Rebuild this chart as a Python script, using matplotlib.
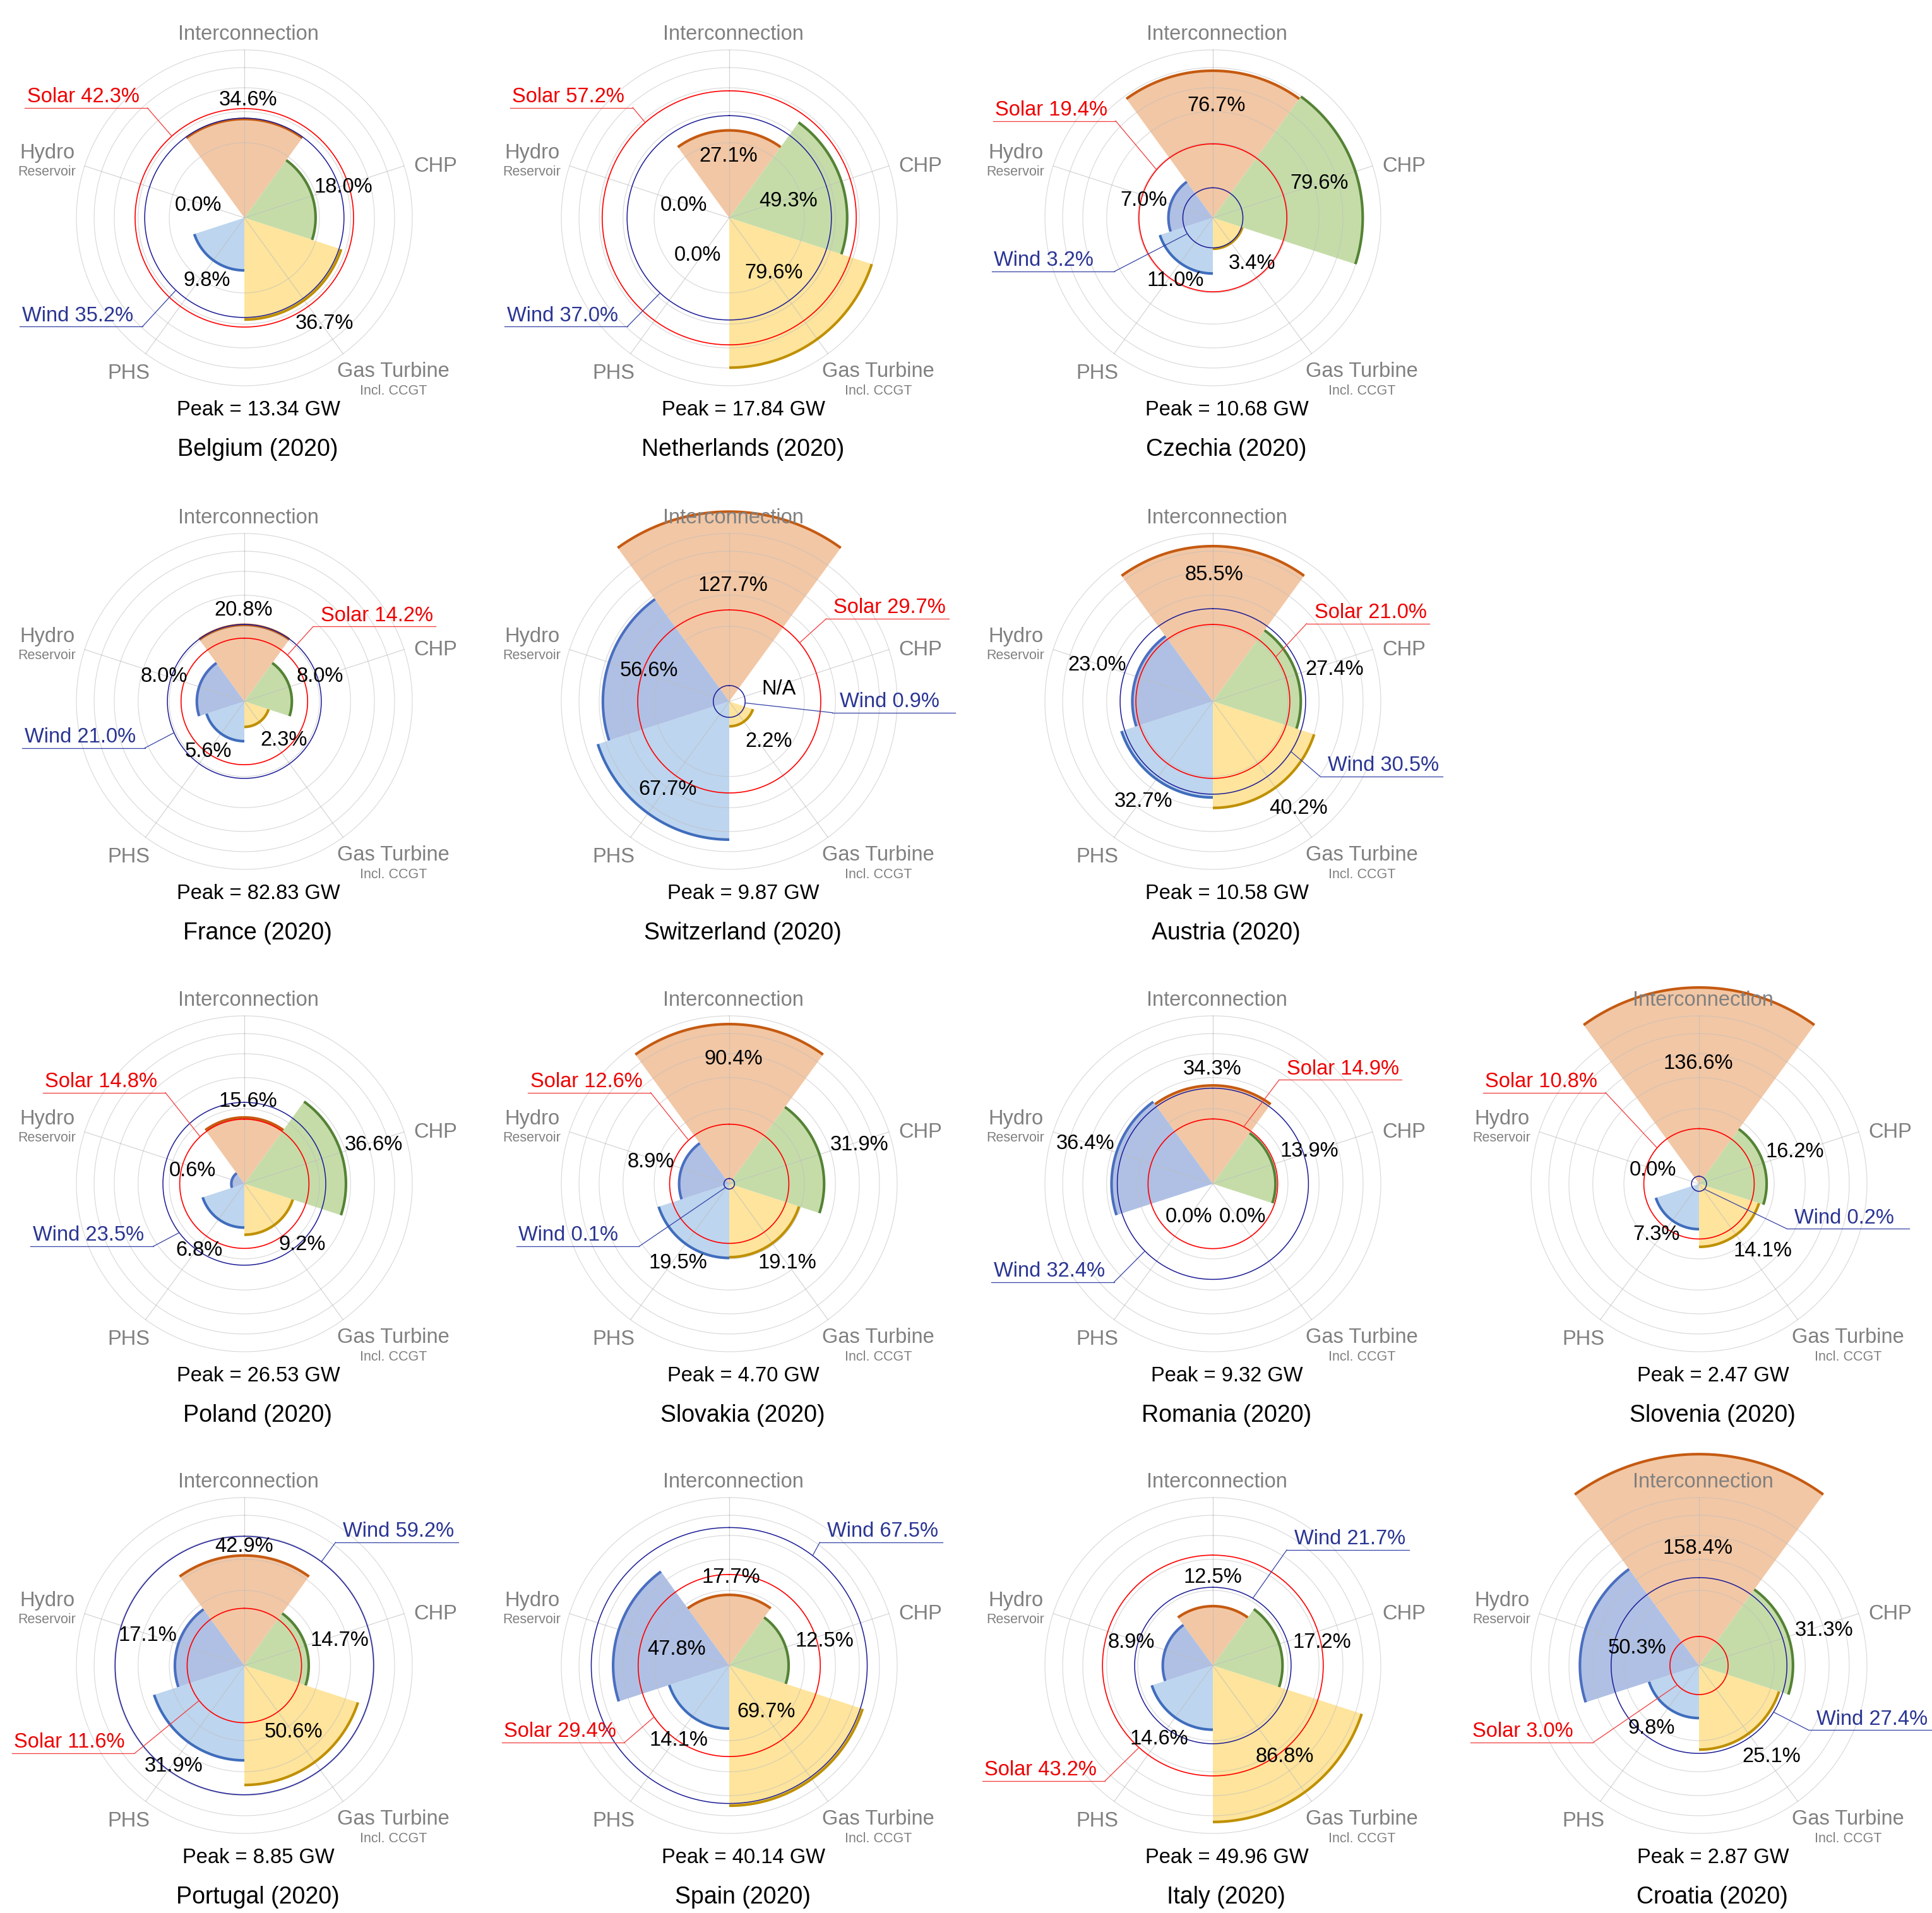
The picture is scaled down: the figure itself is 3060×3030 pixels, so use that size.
import numpy as np
import matplotlib
matplotlib.use("Agg")
import matplotlib.pyplot as plt

plt.rcParams['font.family'] = ['Liberation Sans', 'DejaVu Sans']

# ---- data (percent of peak demand) ----
countries = ["Belgium", "Netherlands", "Czechia", "France", "Switzerland", "Austria",
             "Poland", "Slovakia", "Romania", "Slovenia",
             "Portugal", "Spain", "Italy", "Croatia"]
interconnection = [34.6, 27.1, 76.7, 20.8, 127.7, 85.5, 15.6, 90.4, 34.3, 136.6, 42.9, 17.7, 12.5, 158.4]
chp = [18.0, 49.3, 79.6, 8.0, None, 27.4, 36.6, 31.9, 13.9, 16.2, 14.7, 12.5, 17.2, 31.3]
gas_turbine = [36.7, 79.6, 3.4, 2.3, 2.2, 40.2, 9.2, 19.1, 0.0, 14.1, 50.6, 69.7, 86.8, 25.1]
phs = [9.8, 0.0, 11.0, 5.6, 67.7, 32.7, 6.8, 19.5, 0.0, 7.3, 31.9, 14.1, 14.6, 9.8]
hydro_reservoir = [0.0, 0.0, 7.0, 8.0, 56.6, 23.0, 0.6, 8.9, 36.4, 0.0, 17.1, 47.8, 8.9, 50.3]
solar = [42.3, 57.2, 19.4, 14.2, 29.7, 21.0, 14.8, 12.6, 14.9, 10.8, 11.6, 29.4, 43.2, 3.0]
wind = [35.2, 37.0, 3.2, 21.0, 0.9, 30.5, 23.5, 0.1, 32.4, 0.2, 59.2, 67.5, 21.7, 27.4]
peak_gw = [13.34, 17.84, 10.68, 82.83, 9.87, 10.58, 26.53, 4.70, 9.32, 2.47, 8.85, 40.14, 49.96, 2.87]
year = 2020

categories = ["Interconnection", "CHP", "Gas Turbine", "PHS", "Hydro"]
ring_values = [20, 40, 60, 80, 100]

# ---- layout ----
W, H = 3060, 3030
K = 26.6            # pixels per sqrt(%) unit
R = 13.2            # axes radius in sqrt(%) units
col_x = [387, 1155, 1921, 2691]
row_y = [345, 1111, 1875, 2638]
grid_pos = [(0, 0), (0, 1), (0, 2), (1, 0), (1, 1), (1, 2),
            (2, 0), (2, 1), (2, 2), (2, 3), (3, 0), (3, 1), (3, 2), (3, 3)]

fills = ['#F2C7A5', '#C5DCA9', '#FEE49C', '#BDD5EE', '#AFC0E4']
edges = ['#C55A11', '#548235', '#BF9000', '#3F6DBD', '#4A6EC0']
SOLAR_C = '#EE0000'
WIND_C = '#2A3593'
GRAY = '#808080'

cat_label_xy = [(0.25, 10.93), (11.37, 3.07), (8.87, -9.16), (-6.87, -9.25), (-11.75, 3.86)]

# value label positions (units, x right / y up), order IC, CHP, Gas, PHS, Hydro
value_label_xy = {
    "Belgium": [(0.24, 7.00), (5.88, 1.82), (4.77, -6.30), (-2.24, -3.75), (-2.73, 0.73)],
    "Netherlands": [(-0.04, 3.68), (3.52, 1.00), (2.64, -3.30), (-1.88, -2.24), (-2.70, 0.73)],
    "Czechia": [(0.22, 6.68), (6.32, 2.04), (2.35, -2.73), (-2.24, -3.75), (-4.10, 1.04)],
    "France": [(-0.05, 5.43), (4.52, 1.48), (2.37, -2.31), (-2.15, -3.00), (-4.77, 1.48)],
    "Switzerland": [(0.22, 6.89), (2.95, 0.75), (2.35, -2.40), (-3.66, -5.23), (-4.79, 1.82)],
    "Austria": [(0.09, 7.52), (7.23, 1.88), (5.08, -6.36), (-4.12, -5.96), (-6.89, 2.15)],
    "Poland": [(0.22, 4.92), (7.72, 2.33), (3.46, -3.61), (-2.70, -3.97), (-3.10, 0.77)],
    "Slovakia": [(0.24, 7.41), (7.74, 2.33), (3.46, -4.70), (-3.04, -4.70), (-4.68, 1.31)],
    "Romania": [(-0.05, 6.81), (5.74, 1.95), (1.77, -1.97), (-1.42, -1.97), (-7.61, 2.40)],
    "Slovenia": [(-0.05, 7.16), (5.72, 1.88), (3.81, -4.01), (-2.55, -3.04), (-2.73, 0.82)],
    "Portugal": [(0.0, 7.10), (5.69, 1.47), (2.93, -3.97), (-4.22, -5.98), (-5.76, 1.77)],
    "Spain": [(0.11, 5.25), (5.69, 1.44), (2.20, -2.75), (-3.01, -4.44), (-3.12, 0.94)],
    "Italy": [(0.0, 5.25), (6.49, 1.38), (4.29, -5.45), (-3.19, -4.38), (-4.84, 1.38)],
    "Croatia": [(-0.07, 6.97), (7.45, 2.09), (4.33, -5.45), (-2.82, -3.73), (-3.67, 1.03)],
}

# callouts: (side, underline y, inner x, angle on circle in deg clockwise from top)
solar_note = {
    "Belgium": ("L", 6.54, -5.77, -41.6), "Netherlands": ("L", 6.56, -5.74, -41.4),
    "Czechia": ("L", 5.77, -5.79, -49.5), "France": ("R", 4.46, 4.10, 42.9),
    "Switzerland": ("R", 4.92, 5.77, 50.2), "Austria": ("R", 4.64, 5.59, 54.7),
    "Poland": ("L", 5.43, -4.70, -43.2), "Slovakia": ("L", 5.43, -4.68, -43.0),
    "Romania": ("R", 6.19, 3.95, 28.4), "Slovenia": ("L", 5.43, -5.57, -49.4),
    "Portugal": ("L", -5.23, -6.53, 232.2), "Spain": ("L", -4.59, -6.24, 235.6),
    "Italy": ("L", -6.87, -6.42, 222.0), "Croatia": ("L", -4.59, -6.31, 228.2),
}
wind_note = {
    "Belgium": ("L", -6.48, -6.07, 223.4), "Netherlands": ("L", -6.48, -6.07, 222.6),
    "Czechia": ("L", -3.19, -5.85, 238.0), "France": ("L", -2.77, -5.92, 246.0),
    "Switzerland": ("R", -0.67, 6.14, 95.5), "Austria": ("R", -4.46, 6.38, 122.7),
    "Poland": ("L", -3.73, -5.43, 233.1), "Slovakia": ("L", -3.73, -5.37, 225.0),
    "Romania": ("L", -5.85, -5.88, 225.3), "Slovenia": ("R", -2.68, 5.23, 135.0),
    "Portugal": ("R", 7.33, 5.43, 36.6), "Spain": ("R", 7.33, 5.39, 37.2),
    "Italy": ("R", 6.88, 4.40, 30.7), "Croatia": ("R", -3.85, 6.53, 122.0),
}
NOTE_LEN = 7.3

FS = 23.5
FS_TITLE = 27
FS_SMALL = 15.5


def callout(ov, label, value, note, color, line_color):
    side, y, x_in, ang = note
    x_out = x_in - NOTE_LEN if side == "L" else x_in + NOTE_LEN
    r = np.sqrt(value)
    a = np.deg2rad(ang)
    ov.plot([x_out, x_in], [y, y], color=line_color, lw=0.9, clip_on=False, zorder=6)
    ov.plot([x_in, r * np.sin(a)], [y, r * np.cos(a)], color=line_color, lw=0.9,
            clip_on=False, zorder=6)
    x_txt = x_out + 0.12 if side == "L" else x_in + 0.45
    ov.text(x_txt, y + 0.33, f"{label} {value:.1f}%", color=color, fontsize=FS,
            ha='left', va='baseline', clip_on=False, zorder=7)


fig = plt.figure(figsize=(W / 100, H / 100), dpi=100)
fig.patch.set_facecolor('white')

theta = np.deg2rad([0, 72, 144, 216, 288])
width = 2 * np.pi / 5
circ = np.linspace(0, 2 * np.pi, 721)

for i, name in enumerate(countries):
    row, col = grid_pos[i]
    cx, cy = col_x[col], row_y[row]
    hp = R * K
    rect = [(cx - hp) / W, 1 - (cy + hp) / H, 2 * hp / W, 2 * hp / H]

    ax = fig.add_axes(rect, projection='polar')
    ax.set_theta_zero_location('N')
    ax.set_theta_direction(-1)
    ax.set_ylim(0, R)
    ax.axis('off')

    vals = [interconnection[i], chp[i], gas_turbine[i], phs[i], hydro_reservoir[i]]
    r = np.sqrt([v if v is not None else 0.0 for v in vals])
    ax.bar(theta, r, width=width, color=fills, edgecolor='none', zorder=2)

    # grid
    for v in ring_values:
        ax.plot(circ, np.full_like(circ, np.sqrt(v)), color='#bdbdbd', lw=0.8,
                alpha=0.6, zorder=3)
    for t in theta:
        ax.plot([t, t], [0, np.sqrt(ring_values[-1])], color='#bdbdbd', lw=0.8,
                alpha=0.7, zorder=3)

    # outer arcs
    for t, rr, c in zip(theta, r, edges):
        if rr > 0:
            tt = np.linspace(t - width / 2, t + width / 2, 80)
            ax.plot(tt, np.full_like(tt, rr), color=c, lw=3.0,
                    solid_capstyle='butt', zorder=4)

    # solar / wind circles
    ax.plot(circ, np.full_like(circ, np.sqrt(solar[i])), color='#FF0000', lw=1.2, zorder=5)
    ax.plot(circ, np.full_like(circ, np.sqrt(wind[i])), color='#1C1C96', lw=1.1, zorder=5)

    # overlay for text and callouts
    ov = fig.add_axes(rect)
    ov.set_xlim(-R, R)
    ov.set_ylim(-R, R)
    ov.axis('off')

    for (x, y), lab in zip(cat_label_xy, categories):
        ov.text(x, y, lab, color=GRAY, fontsize=FS, ha='center', va='center', clip_on=False)
    ov.text(8.87, -10.31, "Incl. CCGT", color=GRAY, fontsize=FS_SMALL,
            ha='center', va='center', clip_on=False)
    ov.text(-11.75, 2.73, "Reservoir", color=GRAY, fontsize=FS_SMALL,
            ha='center', va='center', clip_on=False)

    for (x, y), v in zip(value_label_xy[name], vals):
        txt = "N/A" if v is None else f"{v:.1f}%"
        ov.text(x, y, txt, color='black', fontsize=FS, ha='center', va='center',
                clip_on=False, zorder=8)

    callout(ov, "Solar", solar[i], solar_note[name], SOLAR_C, '#F23A3A')
    callout(ov, "Wind", wind[i], wind_note[name], WIND_C, '#3441A6')

    ov.text(0.85, -11.44, f"Peak = {peak_gw[i]:.2f} GW", color='black', fontsize=FS,
            ha='center', va='center', clip_on=False)
    ov.text(0.8, -13.81, f"{name} ({year})", color='black', fontsize=FS_TITLE,
            ha='center', va='center', clip_on=False)

fig.savefig("out.png", dpi=100, facecolor='white')
